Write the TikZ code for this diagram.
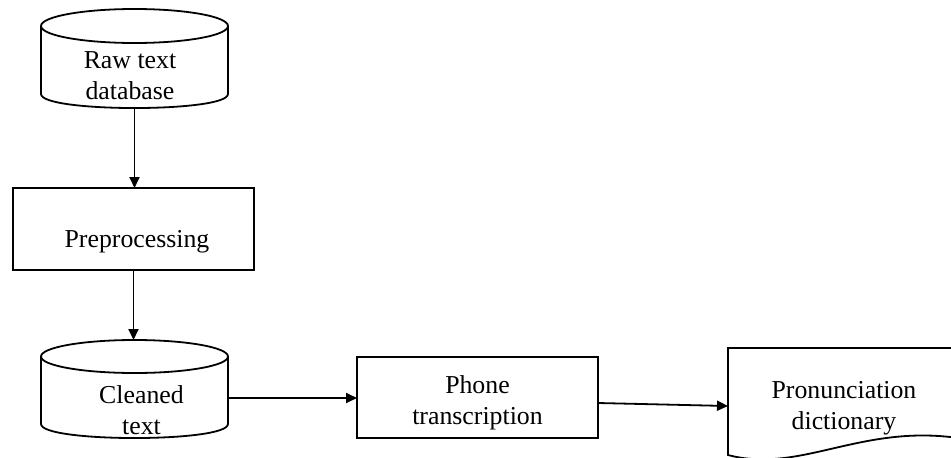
\documentclass[tikz,border=0pt]{standalone}
\usepackage{fontspec}
\setmainfont{Liberation Serif}
\usetikzlibrary{arrows.meta}
\begin{document}
\begin{tikzpicture}[x=1pt, y=-1pt, line width=1.8pt,
  lbl/.style={font=\fontsize{25.8}{31}\selectfont, align=center, inner sep=0pt},
  zone/.style 2 args={minimum width=#1pt, minimum height=#2pt, inner sep=0pt, outer sep=0pt},
  arr/.style={-{Triangle[length=11pt,width=10pt]}}]
\useasboundingbox (0,0) rectangle (951,458);
\clip (0,0) rectangle (951,458);

% outline areas of the five blocks
\node[zone={187}{99}] (raw) at (134.5,58.5) {};
\node[zone={241}{82}, draw] (pre) at (133.5,229) {};
\node[zone={187}{98}] (clean) at (134.5,389) {};
\node[zone={241}{81}, draw] (phone) at (477.5,397.5) {};
\node[zone={230}{107}] (dict) at (843,401.5) {};

% database cylinders
\draw (41,26) -- (41,94) .. controls (41,112.7) and (228,112.7) .. (228,94) -- (228,26);
\draw (134.5,26) ellipse [x radius=93.5, y radius=17];
\draw (41,356.5) -- (41,424) .. controls (41,442.7) and (228,442.7) .. (228,424) -- (228,356.5);
\draw (134.5,356.5) ellipse [x radius=93.5, y radius=16.5];

% document shape with wavy bottom
\draw (728,455) .. controls (800,474) and (860,424) .. (958,438) -- (958,348) -- (728,348) -- cycle;

% labels
\node[lbl] (rawtxt) at (130,75.5) {Raw text\\database};
\node[lbl] (pretxt) at (137,241.3) {Preprocessing};
\node[lbl] (cleantxt) at (141.5,410) {Cleaned\\text};
\node[lbl] (phonetxt) at (477.5,402.6) {Phone\\transcription};
\node[lbl] (dicttxt) at (844,408) {Pronunciation\\dictionary};

% connectors
\draw[arr] (raw.south) -- (raw.south |- pre.north);
\draw[arr] (pre.south) -- (pre.south |- clean.north);
\coordinate (c1) at ([yshift=-9pt]clean.east);
\draw[arr] (c1) -- (c1 -| phone.west);
\draw[arr] ([yshift=-5.5pt]phone.east) -- ([yshift=-4.5pt]dict.west);
\end{tikzpicture}
\end{document}
